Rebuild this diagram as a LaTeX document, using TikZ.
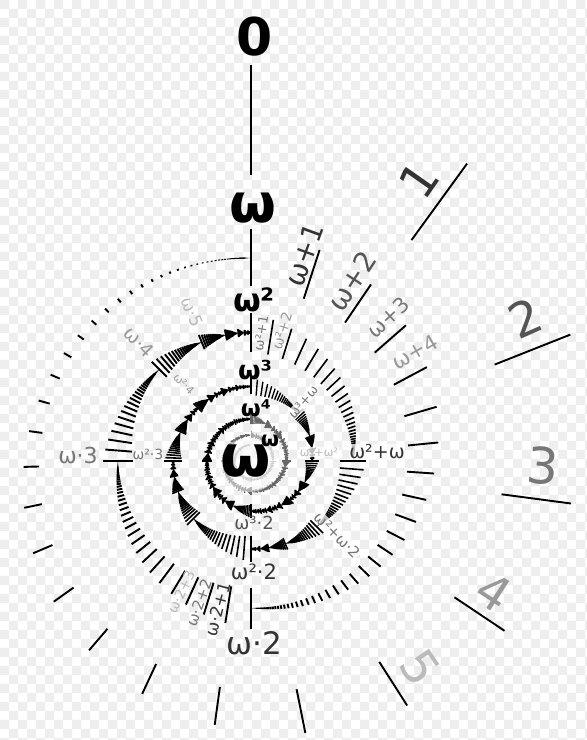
\documentclass[tikz,border=0pt]{standalone}
\usepackage{fontspec}
\setmainfont{DejaVu Sans}
\definecolor{ca}{HTML}{333333}
\definecolor{cb}{HTML}{555555}
\definecolor{cc}{HTML}{777777}
\definecolor{cd}{HTML}{999999}
\definecolor{ce}{HTML}{BBBBBB}
\definecolor{chk}{HTML}{EEEEEE}

\def\thr{0.6}
\def\athr{1.5}
\def\minL{1}
\def\bU{0.88}
\def\cU{0.9}
\def\lam{0.72}
\def\rhoS{0.35}

% one radial tick: angle (deg, clockwise from top), radius, length
\newcommand\OTick[3]{%
  \pgfmathsetmacro\otA{90-(#1)}%
  \pgfmathsetmacro\otH{max(#3,\minL)/2}%
  \pgfmathsetmacro\otI{(#2)-\otH}%
  \pgfmathsetmacro\otO{(#2)+\otH}%
  \draw[tk] (\otA:\otI) -- (\otA:\otO);%
}
% comb of unit steps: start angle, width, start r, end r, start length
\newcommand\UComb[5]{%
 \begingroup
  \pgfmathsetmacro\ucArg{max((#4)*0.0017453*(#2)/\thr,1)}%
  \pgfmathtruncatemacro\ucN{min(ln(\ucArg)/0.1053605,70)}%
  \ifnum\ucN>0
   \foreach \n in {1,...,\ucN}{%
     \pgfmathsetmacro\ucT{(#1)+(#2)*(1-0.9^\n)}%
     \pgfmathsetmacro\ucR{(#4)+((#3)-(#4))*\bU^\n}%
     \pgfmathsetmacro\ucL{(#5)*\cU^\n}%
     \OTick{\ucT}{\ucR}{\ucL}%
   }%
  \fi
  \pgfmathsetmacro\ucT{90-((#1)+(#2)*(1-0.9^\ucN))}%
  \pgfmathsetmacro\ucR{(#4)+((#3)-(#4))*\bU^\ucN}%
  \pgfmathsetmacro\ucH{max((#5)*\cU^\ucN,\minL)/2}%
  \pgfmathsetmacro\ucI{\ucR-\ucH}%
  \pgfmathsetmacro\ucO{\ucR+\ucH}%
  \pgfmathsetmacro\ucE{90-((#1)+(#2))}%
  \fill[tkf] (\ucT:\ucI) -- (\ucT:\ucO) -- (\ucE:#4) -- cycle;%
 \endgroup
}
% interval of type j: j, start angle, width, start r, end r, start length, radius ratio
\newcommand\TInt[7]{%
 \begingroup
 \ifnum#1=0\relax
   \UComb{#2}{#3}{#4}{#5}{#6}%
 \else
   \pgfmathsetmacro\tiArg{max((#5)*0.0087266*(#3)/\athr,1)}%
   \pgfmathtruncatemacro\tiA{min(ln(\tiArg)/0.6931472,16)}%
   \pgfmathtruncatemacro\tiJ{(#1)-1}%
   \foreach \a in {0,...,\tiA}{%
     \pgfmathsetmacro\tiT{(#2)+(#3)*(1-2^(-\a))}%
     \pgfmathsetmacro\tiW{(#3)*2^(-\a-1)}%
     \pgfmathsetmacro\tiR{(#5)+((#4)-(#5))*(#7)^\a}%
     \pgfmathsetmacro\tiRn{(#5)+((#4)-(#5))*(#7)^(\a+1)}%
     \pgfmathsetmacro\tiL{(#6)*\lam^\a}%
     \ifnum\a>0 \OTick{\tiT}{\tiR}{\tiL}\fi
     \edef\tiNext{\noexpand\TInt{\tiJ}{\tiT}{\tiW}{\tiR}{\tiRn}{\tiL}{\rhoS}}%
     \tiNext
   }%
   \pgfmathtruncatemacro\tiB{\tiA+1}%
   \pgfmathsetmacro\tiT{(#2)+(#3)*(1-2^(-\tiB))}%
   \pgfmathsetmacro\tiR{(#5)+((#4)-(#5))*(#7)^\tiB}%
   \pgfmathsetmacro\tiL{(#6)*\lam^\tiB}%
   \OTick{\tiT}{\tiR}{\tiL}%
   \pgfmathsetmacro\tiP{90-\tiT}%
   \pgfmathsetmacro\tiH{max(\tiL,\minL)/2}%
   \pgfmathsetmacro\tiI{\tiR-\tiH}%
   \pgfmathsetmacro\tiO{\tiR+\tiH}%
   \pgfmathsetmacro\tiE{90-((#2)+(#3))}%
   \fill[tkf] (\tiP:\tiI) -- (\tiP:\tiO) -- (\tiE:#5) -- cycle;%
 \fi
 \endgroup
}

\tikzset{
 lab/.style={inner sep=0.5pt, font=\fontsize{#1}{#1}\selectfont},
 blab/.style={inner sep=0pt, font=\fontsize{#1}{#1}\selectfont\bfseries},
 bgw/.style={fill=white, fill opacity=0.75, text opacity=1},
}

\begin{document}
\begin{tikzpicture}[x=1pt,y=1pt,line cap=butt]
\useasboundingbox (0,0) rectangle (587,740);
\fill[white] (0,0) rectangle (587,740);
\fill[chk] \foreach \i in {0,2,...,64}{\foreach \j in {0,2,...,82}{(\i*9,740-\j*9) rectangle ++(9,-9)}};
\fill[chk] \foreach \i in {1,3,...,65}{\foreach \j in {1,3,...,81}{(\i*9,740-\j*9) rectangle ++(9,-9)}};

\coordinate (C) at (251,279);
\begin{scope}[shift={(C)}]
 % turn 0 : finite ordinals
 \begin{scope}[tk/.style={line width=1.9pt,draw=black}, tkf/.style={fill=black}]
  \def\bU{0.85}\def\cU{0.86}\def\minL{1}
  \OTick{0}{341}{110}
  \UComb{0}{360}{341}{203}{110}
 \end{scope}
 % turn 1 : omega .. omega^2
 \begin{scope}[tk/.style={line width=1.9pt,draw=black}, tkf/.style={fill=black}]
  \def\lam{0.72}\def\minL{1}
  \OTick{0}{203}{57}
  \TInt{1}{0}{360}{203}{128.5}{57}{0.25}
 \end{scope}
 % turn 2 : omega^2 .. omega^3
 \begin{scope}[tk/.style={line width=1.6pt,draw=black}, tkf/.style={fill=black}]
  \def\lam{0.68}\def\minL{1}
  \OTick{0}{128.5}{39}
  \TInt{2}{0}{360}{128.5}{74.5}{39}{0.25}
 \end{scope}
 % turn 3 : omega^3 .. omega^4
 \begin{scope}[tk/.style={line width=1.4pt,draw=black}, tkf/.style={fill=black}]
  \def\lam{0.75}\def\minL{1}\def\rhoS{0.45}
  \OTick{0}{74.5}{16}
  \TInt{3}{0}{360}{74.5}{42}{18}{0.25}
 \end{scope}
 % turn 4
 \begin{scope}[tk/.style={line width=1.1pt,draw=black!60}, tkf/.style={fill=black!60}]
  \def\lam{0.75}\def\minL{0.8}\def\rhoS{0.45}
  \OTick{0}{42}{11}
  \TInt{4}{0}{360}{42}{26}{11}{0.25}
 \end{scope}
 % turn 5
 \begin{scope}[tk/.style={line width=0.8pt,draw=black!35}, tkf/.style={fill=black!35}]
  \def\lam{0.75}\def\minL{0.6}\def\rhoS{0.45}
  \OTick{0}{26}{7}
  \TInt{5}{0}{360}{26}{16}{7}{0.25}
 \end{scope}
 \fill[white, opacity=0.5] (-2,-4) ellipse (31 and 27);
\end{scope}

% bold labels
\node[blab=52] (n0) at (255,703) {0};
\node[blab=54] (nw) at (253,532) {ω};
\node[blab=32] (nw2) at (254,440) {ω²};
\node[blab=26] (nw3) at (255,370) {ω³};
\node[blab=23] (nw4) at (256,332) {ω⁴};
\node[blab=58] (nww) at (246,279) {ω};
\node[blab=21] (nwws) at (270,299) {ω};

% finite ordinals
\node[lab=48, text=ca, rotate=55] (n1) at (419,560) {1};
\node[lab=48, text=cb, rotate=24] (n2) at (525,422) {2};
\node[lab=50, text=cc, rotate=-5] (n3) at (543,274) {3};
\node[lab=48, text=cd, rotate=-33] (n4) at (494,148) {4};
\node[lab=48, text=ce, rotate=-56] (n5) at (420,72) {5};

% omega + n
\node[lab=28, text=ca, rotate=70] (nwp1) at (304,485) {ω+1};
\node[lab=28, text=cb, rotate=57] (nwp2) at (352,459) {ω+2};
\node[lab=21, text=cc, rotate=43] (nwp3) at (388,423) {ω+3};
\node[lab=21, text=cd, rotate=30] (nwp4) at (415,388) {ω+4};

% omega . m
\node[lab=31, text=ca] (nwt2) at (254,97) {ω·2};
\node[lab=22, text=cc] (nwt3) at (78,285) {ω·3};
\node[lab=19, text=cd, rotate=-45] (nwt4) at (139,398) {ω·4};
\node[lab=17, text=ce, rotate=-67] (nwt5) at (192,428) {ω·5};

% omega.2 + n
\node[lab=17, text=ca, rotate=75] (nwtp1) at (218,131) {ω·2+1};
\node[lab=15, text=cc, rotate=70] (nwtp2) at (199,137) {ω·2+2};
\node[lab=14, text=ce, rotate=65] (nwtp3) at (181,148) {ω·2+3};

% omega^2 level
\node[lab=21, text=ca] (nw2t2) at (254,168) {ω²·2};
\node[lab=14, text=cc] (nw2t3) at (148,286) {ω²·3};
\node[lab=11, text=cd, rotate=-45] (nw2t4) at (184,356) {ω²·4};
\node[lab=13, text=cc, rotate=81] (nw2p1) at (261,407) {ω²+1};
\node[lab=14, text=cd, rotate=73] (nw2p2) at (282,409) {ω²+2};
\node[lab=19, text=ca, bgw] (nw2pw) at (377,288) {ω²+ω};
\node[lab=15, text=cc, rotate=-45, bgw] (nw2pw2) at (337,205) {ω²+ω·2};

% omega^3 level
\node[lab=18, text=cb] (nw3t2) at (254,217) {ω³·2};
\node[lab=13, text=cc, rotate=50, bgw] (nw3pw) at (303,338) {ω³+ω};
\node[lab=11.5, text=ce, bgw] (nw3pw2) at (319,288) {ω³+ω²};
\end{tikzpicture}
\end{document}
